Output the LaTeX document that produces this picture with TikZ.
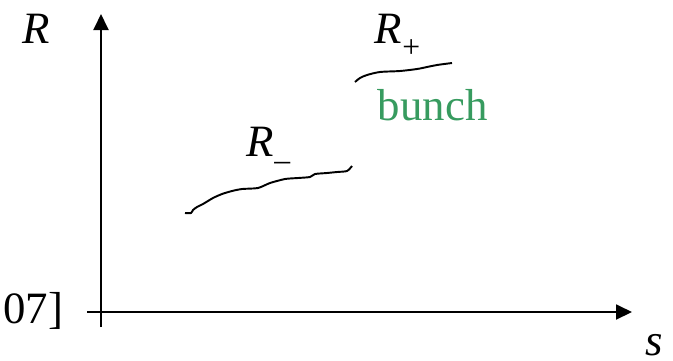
\documentclass[tikz,border=0pt]{standalone}
\usepackage{fontspec}
\setmainfont{Liberation Serif}
\usetikzlibrary{arrows.meta}
\definecolor{bunchgreen}{RGB}{55,155,95}
\newcommand{\bigtext}{\fontsize{25.5}{30}\selectfont}
\newcommand{\Rsub}[1]{\textit{R}\raisebox{-8pt}{\fontsize{18}{20}\selectfont #1}}

\begin{document}
\begin{tikzpicture}[x=0.02cm, y=-0.02cm, line width=1.1pt,
  axis/.style={-{Triangle[length=0.32cm,width=0.3cm]}},
  lbl/.style={font=\bigtext, inner sep=0pt, anchor=base west}]

  \useasboundingbox (0,0) rectangle (673,360);

  %% ---- AXES ----
  \coordinate (ybot) at (101,327);
  \coordinate (ytop) at (101,14);
  \coordinate (xleft) at (87,312);
  \coordinate (xright) at (632,312);
  \draw[axis] (ybot) -- (ytop);
  \draw[axis] (xleft) -- (xright);

  %% axis labels
  \node[lbl] (Rlab) at (22,43) {\textit{R}};
  \node[lbl] (slab) at (645,355) {\textit{s}};
  \node[lbl, anchor=base east] (yr) at (64,323) {07]};

  %% ---- R_- ----
  \draw[line width=1.1pt, line join=round] plot[smooth, tension=0.4] coordinates {
    (185,213) (191,213) (193,210) (197,207) (203,204) (213,198) (222,194)
    (232,191) (242,189) (258,188) (270,183) (285,179) (298,178) (310,177)
    (315,174) (327,173) (337,172) (347,171) (352,166)};
  \node[lbl] (Rminus) at (246,156) {\Rsub{–}};

  %% ---- R_+ ----
  \draw[line width=1.1pt] plot[smooth, tension=0.5] coordinates {
    (355,82) (360,78) (367,75) (380,72) (400,71) (417,69) (427,67)
    (437,65) (452,63)};
  \node[lbl] (Rplus) at (374,43) {\Rsub{+}};
  \node[lbl, text=bunchgreen] (bunch) at (377,120) {bunch};

\end{tikzpicture}
\end{document}
